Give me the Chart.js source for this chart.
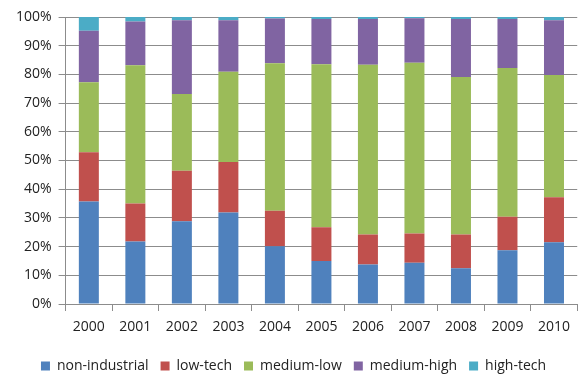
<!DOCTYPE html>
<html>
<head>
<meta charset="utf-8">
<script src="https://cdn.jsdelivr.net/npm/chart.js@4"></script>
<style>
  html, body { margin: 0; padding: 0; background: #fff; }
  #wrap { width: 578px; height: 378px; }
</style>
</head>
<body>
<div id="wrap"><canvas id="grafica" width="578" height="378"></canvas></div>
<script>
const years = ['2000', '2001', '2002', '2003', '2004', '2005', '2006', '2007', '2008', '2009', '2010'];
const nonIndustrial = [35.7, 21.8, 28.8, 31.9, 20.1, 15.0, 13.8, 14.4, 12.5, 18.7, 21.5];
const lowTech = [17.2, 13.2, 17.6, 17.6, 12.4, 11.7, 10.4, 10.2, 11.7, 11.7, 15.7];
const mediumLow = [24.4, 48.2, 26.8, 31.4, 51.4, 56.8, 59.2, 59.5, 54.9, 51.8, 42.6];
const mediumHigh = [17.9, 15.2, 25.7, 18.0, 15.6, 15.8, 15.9, 15.5, 20.2, 17.1, 19.1];
const highTech = [4.8, 1.6, 1.1, 1.1, 0.5, 0.7, 0.7, 0.4, 0.7, 0.7, 1.1];
const yTicks = [0, 10, 20, 30, 40, 50, 60, 70, 80, 90, 100];

document.addEventListener("DOMContentLoaded", function () {
    const fuente = { family: 'Open Sans', size: 14 };
    const ctx = document.getElementById('grafica').getContext('2d');
    new Chart(ctx, {
        type: 'bar',
        data: {
            labels: years,
            datasets: [
                { label: 'non-industrial', data: nonIndustrial, backgroundColor: '#4F81BD' },
                { label: 'low-tech', data: lowTech, backgroundColor: '#C0504D' },
                { label: 'medium-low', data: mediumLow, backgroundColor: '#9BBB59' },
                { label: 'medium-high', data: mediumHigh, backgroundColor: '#8064A2' },
                { label: 'high-tech', data: highTech, backgroundColor: '#4BACC6' }
            ]
        },
        options: {
            responsive: false,
            animation: false,
            layout: { padding: { top: 17, right: 0, left: 9, bottom: -5 } },
            datasets: { bar: { categoryPercentage: 1, barPercentage: 0.43, borderWidth: 0 } },
            plugins: {
                tooltip: { enabled: false },
                legend: {
                    position: 'bottom',
                    labels: {
                        font: fuente,
                        color: '#222',
                        boxWidth: 9,
                        boxHeight: 9,
                        padding: 12
                    }
                }
            },
            scales: {
                x: {
                    stacked: true,
                    grid: { display: true, drawOnChartArea: false, offset: true, tickLength: 7, color: '#8c8c8c' },
                    border: { color: '#8c8c8c' },
                    ticks: { font: fuente, color: '#222', padding: 8 },
                    title: { display: true, text: ' ', font: { size: 1 }, padding: { top: 0, bottom: 2 } }
                },
                y: {
                    stacked: true,
                    min: 0,
                    max: 100,
                    afterBuildTicks: function (axis) {
                        axis.ticks = yTicks.map(v => ({ value: v }));
                    },
                    grid: { color: '#8c8c8c', tickLength: 7 },
                    border: { color: '#8c8c8c' },
                    ticks: {
                        font: fuente,
                        color: '#222',
                        padding: 7,
                        callback: v => v + '%'
                    }
                }
            }
        }
    });
});
</script>
</body>
</html>
